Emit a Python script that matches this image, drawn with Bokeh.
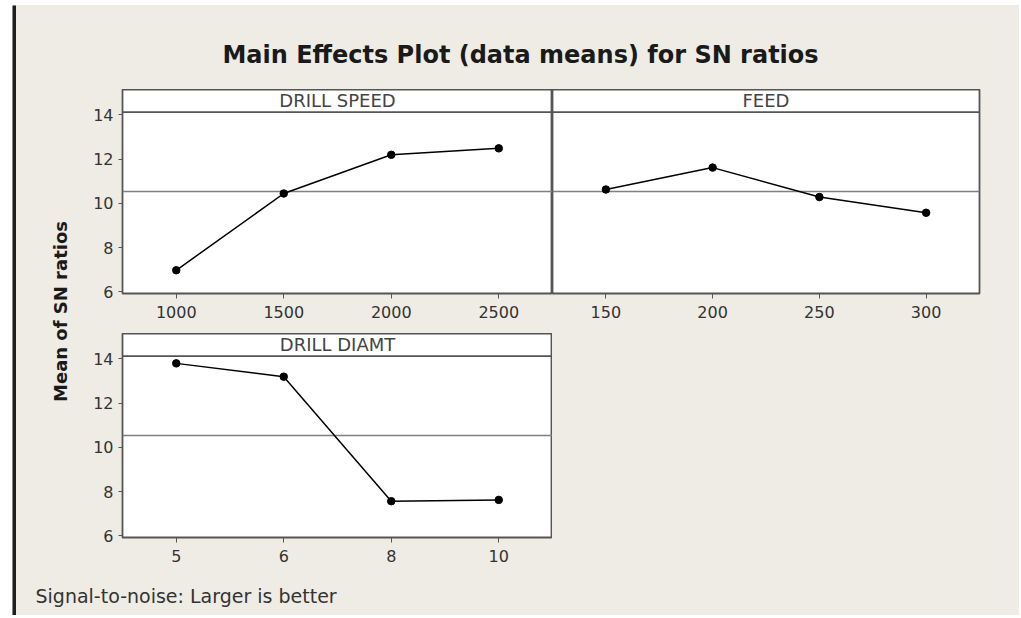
import numpy as np
from bokeh.plotting import figure
from bokeh.layouts import row, column
from bokeh.models import Range1d, FactorRange, Span, Label, FixedTicker
from bokeh.embed import file_html
from bokeh.resources import INLINE

# ---------------- data ----------------
TITLE = "Main Effects Plot (data means) for SN ratios"
Y_LABEL = "Mean of SN ratios"
NOTE = "Signal-to-noise: Larger is better"

speed_name = "DRILL SPEED"
speed_levels = ["1000", "1500", "2000", "2500"]
speed_sn = [6.98, 10.45, 12.20, 12.49]

feed_name = "FEED"
feed_levels = ["150", "200", "250", "300"]
feed_sn = [10.63, 11.62, 10.29, 9.58]

diam_name = "DRILL DIAMT"
diam_levels = ["5", "6", "8", "10"]
diam_sn = [13.80, 13.20, 7.57, 7.63]

y_ticks = [6, 8, 10, 12, 14]

grand_mean = float(np.mean(speed_sn + feed_sn + diam_sn))

# ---------------- style / layout ----------------
BG = "#efece5"
PANEL = "#ffffff"
FRAME = "#555555"
FONT = "DejaVu Sans"
Y_LO, Y_TOP, Y_STRIP = 5.93, 15.15, 14.13
FH = 204
W_CONTENT = 1003


def panel(levels, values, name, frame_w, show_y, mb_left, mb_right, mb_bottom):
    p = figure(x_range=FactorRange(*levels), y_range=Range1d(Y_LO, Y_TOP),
               frame_width=frame_w, frame_height=FH,
               output_backend="svg", toolbar_location=None,
               min_border_left=mb_left, min_border_right=mb_right,
               min_border_top=0, min_border_bottom=mb_bottom,
               y_axis_location="left" if show_y else None)
    p.background_fill_color = PANEL
    p.border_fill_color = BG
    p.outline_line_color = FRAME
    p.outline_line_width = 1.8
    p.grid.visible = False

    xa = p.xaxis[0]
    xa.axis_line_color = None
    xa.major_tick_in = 0
    xa.major_tick_out = 5
    xa.major_tick_line_color = "#555555"
    xa.major_label_standoff = 7
    xa.major_label_text_font = FONT
    xa.major_label_text_font_size = "16px"
    xa.major_label_text_color = "#333333"

    if show_y:
        ya = p.yaxis[0]
        ya.ticker = FixedTicker(ticks=y_ticks)
        ya.axis_line_color = None
        ya.major_tick_in = 0
        ya.major_tick_out = 4
        ya.minor_tick_line_color = None
        ya.major_tick_line_color = "#555555"
        ya.major_label_standoff = 5
        ya.major_label_text_font = FONT
        ya.major_label_text_font_size = "16px"
        ya.major_label_text_color = "#333333"

    p.add_layout(Span(location=grand_mean, dimension="width", line_color="#808080",
                      line_width=1.6, level="underlay"))
    p.add_layout(Span(location=Y_STRIP, dimension="width", line_color=FRAME,
                      line_width=1.8))
    p.add_layout(Label(x=len(levels) / 2, y=(Y_STRIP + Y_TOP) / 2, text=name,
                       text_align="center", text_baseline="middle",
                       text_font=FONT, text_font_size="18px", text_color="#444444"))

    p.line(levels, values, line_color="black", line_width=1.5)
    p.scatter(levels, values, size=7.5, color="black")
    return p


def blank(w, h, color=BG):
    f = figure(width=w, height=h, x_range=Range1d(0, w), y_range=Range1d(0, h),
               output_backend="svg", toolbar_location=None, min_border=0,
               x_axis_location=None, y_axis_location=None)
    f.outline_line_color = None
    f.grid.visible = False
    f.background_fill_color = color
    f.border_fill_color = color
    return f


figA = panel(speed_levels, speed_sn, speed_name, 430, True, 32, 0, 40)
figB = panel(feed_levels, feed_sn, feed_name, 427, False, 0, 40, 40)
figC = panel(diam_levels, diam_sn, diam_name, 430, True, 32, 0, 32)

top_line = blank(W_CONTENT, 3, "#707070")

title_fig = blank(W_CONTENT, 81)
title_fig.add_layout(Label(x=504, y=35, text=TITLE, text_align="center",
                           text_baseline="alphabetic", text_font=FONT,
                           text_font_size="24px", text_font_style="bold",
                           text_color="#1a1a1a"))

label_fig = blank(74, 480)
label_fig.add_layout(Label(x=44, y=258, text=Y_LABEL, angle=90, angle_units="deg",
                           text_align="center", text_baseline="middle",
                           text_font=FONT, text_font_size="18px",
                           text_font_style="bold", text_color="#1a1a1a"))

foot_fig = blank(W_CONTENT, 46)
foot_fig.add_layout(Label(x=19, y=20, text=NOTE, text_align="left",
                          text_baseline="alphabetic", text_font=FONT,
                          text_font_size="19px", text_color="#333333"))

content = column(
    top_line,
    title_fig,
    row(label_fig, column(row(figA, figB), figC)),
    foot_fig,
)
left_line = blank(4, 3 + 81 + 480 + 46, "#1e1e1e")

root = row(left_line, content,
           styles={"background-color": BG, "margin-left": "12px", "margin-top": "5px"})

open("out.html", "w").write(file_html(root, INLINE))
